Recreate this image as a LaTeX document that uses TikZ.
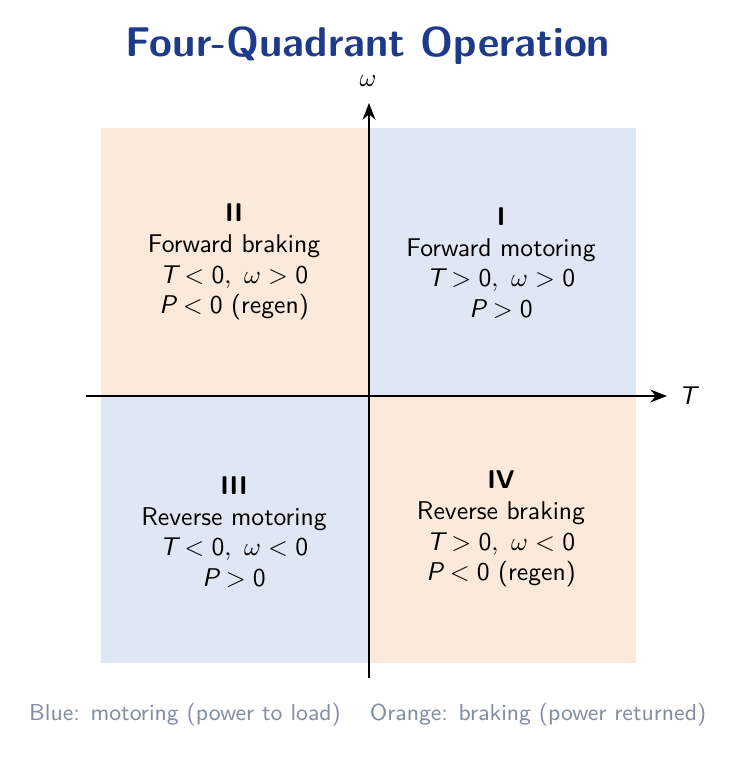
\documentclass[tikz,border=0pt]{standalone}
\usepackage{amsmath}
\usepackage{xcolor}
\usepackage{tikz}
\usetikzlibrary{arrows.meta,positioning}

\definecolor{motorfill}{RGB}{224,231,244}
\definecolor{brakefill}{RGB}{251,233,219}
\definecolor{titleblue}{RGB}{30,58,138}
\definecolor{notegray}{RGB}{132,142,162}

% sans slanted variable names
\newcommand{\qv}[1]{\textsl{#1}}

\tikzset{
  axis/.style={line width=0.8pt, -{Stealth[length=6.5pt,width=5pt]}},
  quadtext/.style={align=center, font=\sffamily, text=black},
  note/.style={font=\sffamily\small, text=notegray}
}

\begin{document}
\begin{tikzpicture}[x=0.39pt,y=-0.39pt]
\useasboundingbox (0,0) rectangle (737,759);

% shaded quadrants
\fill[brakefill] (101,128) rectangle (369,396);
\fill[motorfill] (369,128) rectangle (636,396);
\fill[motorfill] (101,396) rectangle (369,663);
\fill[brakefill] (369,396) rectangle (636,663);

\node[font=\sffamily\bfseries\fontsize{16.2}{19}\selectfont, text=titleblue] (title) at (368,46) {Four-Quadrant Operation};

% axes
\coordinate (tstart) at (86,396);
\coordinate (tend) at (667,396);
\coordinate (wstart) at (369,678);
\coordinate (wend) at (369,103);
\draw[axis] (tstart) -- (tend);
\draw[axis] (wstart) -- (wend);
\node[quadtext] (tlabel) at (689,396) {\qv{T}};
\node[quadtext] (wlabel) at (368,81) {$\omega$};

% quadrant labels
\node[quadtext] (q1) at (501,263) {\textbf{I}\\Forward motoring\\$\qv{T}>\text{0},\ \omega>\text{0}$\\$\qv{P}>\text{0}$};
\node[quadtext] (q2) at (234,262) {\textbf{II}\\Forward braking\\$\qv{T}<\text{0},\ \omega>\text{0}$\\$\qv{P}<\text{0}$ (regen)};
\node[quadtext] (q3) at (234,532) {\textbf{III}\\Reverse motoring\\$\qv{T}<\text{0},\ \omega<\text{0}$\\$\qv{P}>\text{0}$};
\node[quadtext] (q4) at (501,529) {\textbf{IV}\\Reverse braking\\$\qv{T}>\text{0},\ \omega<\text{0}$\\$\qv{P}<\text{0}$ (regen)};

% legend
\node[note] (blue) at (185,715) {Blue: motoring (power to load)};
\node[note] (orange) at (538,715) {Orange: braking (power returned)};

\end{tikzpicture}
\end{document}
